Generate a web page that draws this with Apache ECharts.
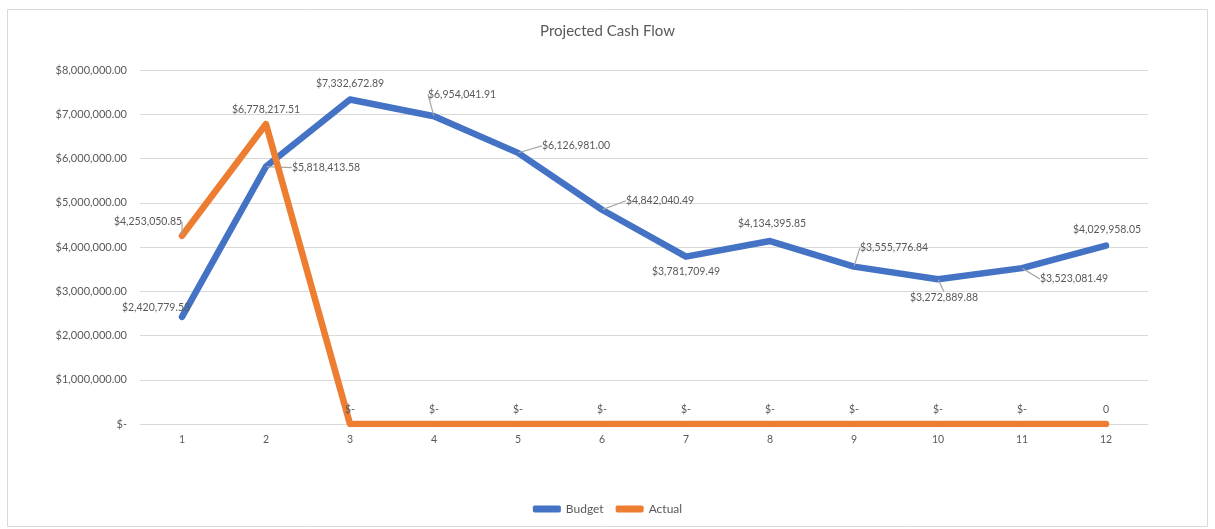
<!DOCTYPE html>
<html>
<head>
<meta charset="utf-8">
<script src="https://cdn.jsdelivr.net/npm/echarts@6/dist/echarts.min.js"></script>
<style>
html,body{margin:0;padding:0;background:#fff;}
#c{width:1215px;height:529px;}
</style>
</head>
<body>
<div id="c"></div>
<script>
const categories = ['1','2','3','4','5','6','7','8','9','10','11','12'];
const budget = [2420779.53, 5818413.58, 7332672.89, 6954041.91, 6126981.00, 4842040.49, 3781709.49, 4134395.85, 3555776.84, 3272889.88, 3523081.49, 4029958.05];
const actual = [4253050.85, 6778217.51, 0, 0, 0, 0, 0, 0, 0, 0, 0, 0];
const actualLabels = ['$4,253,050.85', '$6,778,217.51', '$-', '$-', '$-', '$-', '$-', '$-', '$-', '$-', '$-', '0'];
const yTicks = [0, 1000000, 2000000, 3000000, 4000000, 5000000, 6000000, 7000000, 8000000];

// label placement (offset of label centre from point) and whether a leader line is drawn
const budgetOffsets = [[-26,-9],[60,1],[0,-16],[28,-22],[58,-7],[58,-9],[0,15],[2,-17],[40,-19],[6,18],[52,11],[1,-16]];
const budgetLeader = [false,true,false,true,true,true,false,false,true,true,true,false];
const actualOffsets = [[-34,-14],[0,-14],[0,-14],[0,-14],[0,-14],[0,-14],[0,-14],[0,-14],[0,-14],[0,-14],[0,-14],[0,-14]];
const actualLeader = [true,false,false,false,false,false,false,false,false,false,false,false];

function money(v){
  if (v === 0) return '$-';
  return '$' + v.toLocaleString('en-US',{minimumFractionDigits:2, maximumFractionDigits:2});
}

const FONT = 'Lato, "Liberation Sans", sans-serif';
const TXT = '#595959';

const chart = echarts.init(document.getElementById('c'), null, {renderer:'canvas'});
chart.setOption({
  animation:false,
  backgroundColor:'#fff',
  graphic:[{type:'rect', shape:{x:7.5,y:9.5,width:1200,height:517}, style:{fill:null, stroke:'#d9d9d9', lineWidth:1}, silent:true}],
  title:{text:'Projected Cash Flow', left:'center', top:19, textStyle:{fontFamily:FONT, fontSize:15, fontWeight:'normal', color:TXT}},
  legend:{bottom:9, left:'center', itemWidth:28, itemHeight:7, itemGap:12, icon:'roundRect',
    textStyle:{fontFamily:FONT, fontSize:12, color:TXT},
    data:['Budget','Actual']},
  grid:{left:140, right:67, top:70, bottom:105},
  xAxis:{type:'category', data:categories, boundaryGap:true,
    axisLine:{show:true, lineStyle:{color:'#d9d9d9'}}, axisTick:{show:false},
    axisLabel:{fontFamily:FONT, fontSize:10.5, color:TXT, margin:10}},
  yAxis:{type:'value', min:0, max:8000000, interval:1000000,
    axisLine:{show:false}, axisTick:{show:false},
    splitLine:{lineStyle:{color:'#d9d9d9', width:1}},
    axisLabel:{fontFamily:FONT, fontSize:11, color:TXT, margin:13,
      formatter:function(v){ return yTicks.indexOf(v) >= 0 ? money(v) : ''; }}},
  series:[
    {name:'Budget', type:'line', showSymbol:true, symbol:'circle', symbolSize:1,
      itemStyle:{color:'#4472C4'}, lineStyle:{width:6.5, color:'#4472C4', cap:'round', join:'round'},
      data: budget.map((v,i)=>({value:v, labelLine:{show:budgetLeader[i]}})),
      label:{show:true, position:'inside', fontFamily:FONT, fontSize:10.5, color:TXT,
        formatter:(p)=>money(p.value)},
      labelLine:{show:true, lineStyle:{color:'#a6a6a6', width:1.2}},
      labelLayout:(p)=>({dx:budgetOffsets[p.dataIndex][0], dy:budgetOffsets[p.dataIndex][1]}),
      z:2},
    {name:'Actual', type:'line', showSymbol:true, symbol:'circle', symbolSize:1,
      itemStyle:{color:'#ED7D31'}, lineStyle:{width:6.5, color:'#ED7D31', cap:'round', join:'round'},
      data: actual.map((v,i)=>({value:v, labelLine:{show:actualLeader[i]}})),
      label:{show:true, position:'inside', fontFamily:FONT, fontSize:10.5, color:TXT,
        formatter:(p)=>actualLabels[p.dataIndex]},
      labelLine:{show:true, lineStyle:{color:'#a6a6a6', width:1.2}},
      labelLayout:(p)=>({dx:actualOffsets[p.dataIndex][0], dy:actualOffsets[p.dataIndex][1]}),
      z:3}
  ]
});
</script>
</body>
</html>
